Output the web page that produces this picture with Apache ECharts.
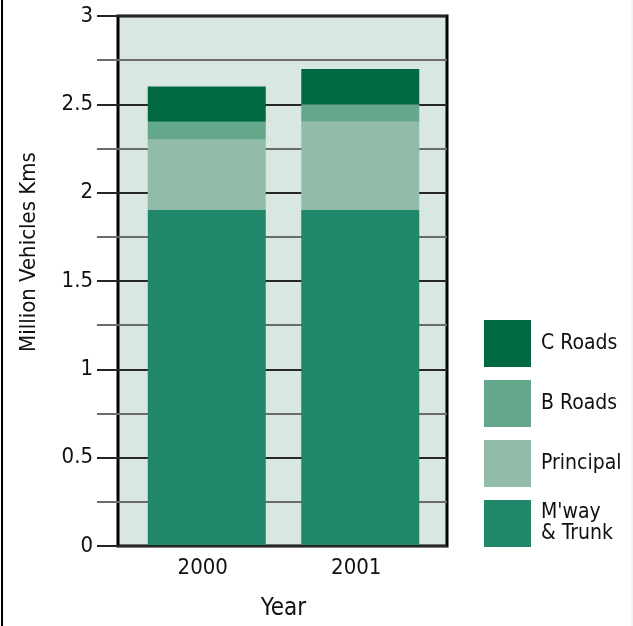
<!DOCTYPE html>
<html>
<head>
<meta charset="utf-8">
<script src="https://cdn.jsdelivr.net/npm/echarts@6/dist/echarts.min.js"></script>
<style>
  html, body { margin: 0; padding: 0; background: #ffffff; }
  #chart { width: 633px; height: 626px; }
</style>
</head>
<body>
<div id="chart"></div>
<script>
// Vehicle kilometres by road class (million), stacked per year
const years = ['2000', '2001'];
const mwayTrunk = [1.9, 1.9];
const principal = [0.4, 0.5];
const bRoads = [0.1, 0.1];
const cRoads = [0.2, 0.2];
const yTicksMajor = ['0', '0.5', '1', '1.5', '2', '2.5', '3'];

const FONT = '"DejaVu Sans Condensed", "Liberation Sans Narrow", sans-serif';
const colors = {
  "M'way & Trunk": '#20876a',
  'Principal': '#91bca9',
  'B Roads': '#64a78b',
  'C Roads': '#006941'
};

const chart = echarts.init(document.getElementById('chart'), null, { renderer: 'canvas' });

const seriesDefs = [
  ["M'way & Trunk", mwayTrunk],
  ['Principal', principal],
  ['B Roads', bRoads],
  ['C Roads', cRoads]
];

chart.setOption({
  animation: false,
  textStyle: { fontFamily: FONT },
  graphic: [
    { type: 'line', shape: { x1: 2, y1: 0, x2: 2, y2: 626 }, style: { stroke: '#000', lineWidth: 2 } },
    { type: 'line', shape: { x1: 632, y1: 0, x2: 632, y2: 626 }, style: { stroke: '#e6e6e6', lineWidth: 1 } }
  ],
  grid: [
    // frame, background and value scale
    { left: 118, right: 186, top: 16, bottom: 80, show: true, backgroundColor: '#d8e7e2', borderColor: '#000', borderWidth: 3, z: 0 },
    // bars
    { left: 130, right: 196, top: 16, bottom: 80 }
  ],
  legend: {
    orient: 'vertical',
    left: 484,
    top: 320,
    padding: 0,
    itemWidth: 47,
    itemHeight: 47,
    itemGap: 13,
    icon: 'rect',
    data: ['C Roads', 'B Roads', 'Principal', "M'way & Trunk"],
    formatter: name => name === "M'way & Trunk" ? "M'way\n& Trunk" : name,
    textStyle: { fontFamily: FONT, fontSize: 21, color: '#111', lineHeight: 21, padding: [0, 0, 0, 5] }
  },
  xAxis: [
    { type: 'category', gridIndex: 0, data: years, show: false },
    {
      type: 'category', gridIndex: 1, data: years,
      axisLine: { show: false }, axisTick: { show: false },
      axisLabel: { fontFamily: FONT, fontSize: 22, color: '#111', margin: 12, padding: [0, 8, 0, 0] },
      name: 'Year', nameLocation: 'middle', nameGap: 52,
      nameTextStyle: { fontFamily: FONT, fontSize: 24, color: '#111' }
    }
  ],
  yAxis: [
    {
      // minor rules every 0.25
      type: 'value', gridIndex: 0, position: 'left', min: 0, max: 3, interval: 0.25,
      axisLine: { show: false },
      axisTick: { show: true, length: 21, lineStyle: { color: '#6b6b6b', width: 2 } },
      axisLabel: { show: false },
      splitLine: { show: true, lineStyle: { color: '#6b6b6b', width: 2 } },
      z: 1
    },
    {
      // major rules every 0.5 with labels
      type: 'value', gridIndex: 0, position: 'left', offset: 0, min: 0, max: 3, interval: 0.5,
      axisLine: { show: false },
      axisTick: { show: true, length: 21, lineStyle: { color: '#111', width: 1.5 } },
      axisLabel: {
        fontFamily: FONT, fontSize: 22, color: '#111', margin: 25, padding: [5, 0, 0, 0],
        formatter: v => yTicksMajor[Math.round(v / 0.5)]
      },
      splitLine: { show: true, lineStyle: { color: '#111', width: 1.5 } },
      name: 'Million Vehicles Kms', nameLocation: 'middle', nameGap: 78, nameRotate: 90,
      nameTextStyle: { fontFamily: FONT, fontSize: 22, color: '#111', padding: [0, 0, 0, 58] },
      z: 2
    },
    { type: 'value', gridIndex: 1, min: 0, max: 3, show: false }
  ],
  series: seriesDefs.map(([name, data]) => ({
    name,
    type: 'bar',
    stack: 'total',
    xAxisIndex: 1,
    yAxisIndex: 2,
    barWidth: 118,
    data,
    itemStyle: { color: colors[name] },
    z: 3
  }))
});
</script>
</body>
</html>
